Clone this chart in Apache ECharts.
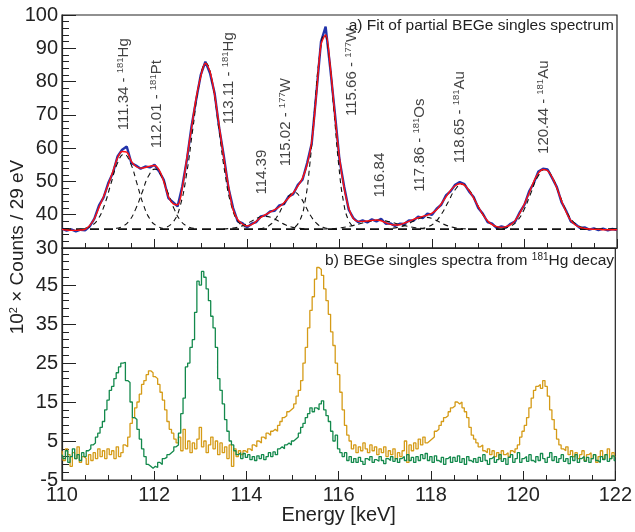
<!DOCTYPE html>
<html>
<head>
<meta charset="utf-8">
<script src="https://cdn.jsdelivr.net/npm/echarts@6/dist/echarts.min.js"></script>
<style>
  html, body { margin: 0; padding: 0; background: #fff; }
  #main { width: 635px; height: 532px; }
</style>
</head>
<body>
<div id="main"></div>
<script>
// panel a) - measured spectrum (0.1 keV steps from 110 keV) and the total fit
const measured = [
    35.8, 35.2, 35.6, 35.0, 35.5, 35.3, 36.5, 38.8, 42.8, 45.2,
    49.5, 52.5, 57.5, 59.5, 60.5, 55.5, 54.8, 53.8, 54.5, 54.2,
    55.0, 53.0, 50.5, 45.0, 43.8, 42.5, 48.5, 56.5, 66.5, 74.5,
    82.0, 86.0, 82.5, 76.5, 66.0, 57.5, 48.0, 42.0, 38.0, 37.5,
    36.2, 37.3, 37.8, 39.5, 39.8, 41.0, 41.2, 42.8, 43.2, 45.5,
    46.2, 49.0, 50.5, 55.5, 61.5, 76.5, 92.0, 96.5, 84.0, 70.5,
    56.5, 48.5, 41.5, 39.0, 37.8, 38.3, 37.7, 38.6, 38.0, 38.8,
    37.3, 37.4, 36.6, 37.3, 37.2, 38.3, 38.2, 39.4, 39.0, 40.3,
    40.0, 41.8, 43.0, 45.8, 47.0, 49.0, 49.8, 49.2, 47.0, 45.3,
    42.0, 40.3, 37.8, 37.3, 36.0, 36.5, 36.1, 37.3, 38.0, 40.8,
    43.0, 47.0, 49.5, 53.0, 53.8, 53.6, 51.0, 48.3, 43.8, 41.2,
    38.0, 37.2, 36.0, 36.2, 35.5, 35.9, 35.4, 35.8, 35.3, 35.7,
    35.4
];
const fitTotal = [
    35.6, 35.4, 35.3, 35.3, 35.4, 35.6, 36.8, 38.8, 42.2, 45.5,
    49.0, 53.0, 57.0, 59.0, 58.8, 56.0, 54.5, 54.0, 54.2, 54.6,
    54.8, 53.5, 50.0, 45.5, 43.3, 43.0, 48.0, 57.0, 66.0, 75.0,
    81.5, 85.5, 83.0, 76.0, 66.5, 57.0, 48.5, 41.5, 38.5, 37.2,
    36.6, 37.0, 38.0, 39.2, 40.0, 40.8, 41.5, 42.4, 43.6, 45.0,
    46.6, 48.6, 51.0, 55.0, 62.0, 76.0, 91.0, 94.0, 84.5, 70.0,
    57.0, 48.0, 42.0, 38.8, 38.0, 38.0, 38.1, 38.3, 38.4, 38.2,
    37.6, 37.1, 36.9, 37.0, 37.5, 38.0, 38.6, 39.1, 39.5, 39.9,
    40.5, 41.5, 43.3, 45.3, 47.3, 48.7, 49.3, 48.9, 47.3, 45.0,
    42.5, 40.0, 38.2, 37.0, 36.4, 36.2, 36.4, 37.0, 38.3, 40.5,
    43.3, 46.5, 50.0, 52.5, 53.6, 53.2, 51.2, 48.0, 44.2, 40.8,
    38.3, 36.9, 36.2, 35.9, 35.7, 35.6, 35.6, 35.5, 35.5, 35.5,
    35.5
];
const fitBackground = 35.7;

// single peak components of the fit, [energy, counts]
const fitPeaks = [
    [[110.50,35.9],[110.64,36.7],[110.78,38.7],[110.92,43.0],[111.06,49.4],[111.20,55.5],[111.34,58.2],[111.48,55.5],[111.62,49.4],[111.76,43.0],[111.90,38.7],[112.04,36.7],[112.18,35.9]],
    [[111.17,35.9],[111.31,36.5],[111.45,38.1],[111.59,41.6],[111.73,46.6],[111.87,51.6],[112.01,53.7],[112.15,51.6],[112.29,46.6],[112.43,41.6],[112.57,38.1],[112.71,36.5],[112.85,35.9]],
    [[112.27,36.3],[112.41,37.9],[112.55,42.4],[112.69,51.9],[112.83,65.9],[112.97,79.6],[113.11,85.5],[113.25,79.6],[113.39,65.9],[113.53,51.9],[113.67,42.4],[113.81,37.9],[113.95,36.3]],
    [[113.49,35.7],[113.64,35.9],[113.79,36.2],[113.94,36.9],[114.09,38.0],[114.24,39.1],[114.39,39.5],[114.54,39.1],[114.69,38.0],[114.84,36.9],[114.99,36.2],[115.14,35.9],[115.29,35.7]],
    [[114.27,35.8],[114.395,36.2],[114.52,37.2],[114.645,39.3],[114.77,42.4],[114.895,45.4],[115.02,46.7],[115.145,45.4],[115.27,42.4],[115.395,39.3],[115.52,37.2],[115.645,36.2],[115.77,35.8]],
    [[115.04,36.3],[115.145,38.3],[115.25,43.6],[115.355,54.7],[115.46,71.2],[115.565,87.3],[115.67,94.2],[115.775,87.3],[115.88,71.2],[115.985,54.7],[116.09,43.6],[116.195,38.3],[116.30,36.3]],
    [[115.64,35.7],[115.84,35.8],[116.04,36.1],[116.24,36.6],[116.44,37.3],[116.64,38.0],[116.84,38.3],[117.04,38.0],[117.24,37.3],[117.44,36.6],[117.64,36.1],[117.84,35.8],[118.04,35.7]],
    [[116.96,35.7],[117.11,35.9],[117.26,36.2],[117.41,36.8],[117.56,37.8],[117.71,38.8],[117.86,39.2],[118.01,38.8],[118.16,37.8],[118.31,36.8],[118.46,36.2],[118.61,35.9],[118.76,35.7]],
    [[117.75,35.9],[117.90,36.3],[118.05,37.5],[118.20,40.1],[118.35,43.8],[118.50,47.5],[118.65,49.1],[118.80,47.5],[118.95,43.8],[119.10,40.1],[119.25,37.5],[119.40,36.3],[119.55,35.9]],
    [[119.54,35.9],[119.69,36.5],[119.84,38.1],[119.99,41.5],[120.14,46.6],[120.29,51.5],[120.44,53.6],[120.59,51.5],[120.74,46.6],[120.89,41.5],[121.04,38.1],[121.19,36.5],[121.34,35.9]]
];

const peakLabels = [
    '111.34 - {s|181}Hg', '112.01 - {s|181}Pt', '113.11 - {s|181}Hg', '114.39',
    '115.02 - {s|177}W', '115.66 - {s|177}W', '116.84', '117.86 - {s|181}Os',
    '118.65 - {s|181}Au', '120.44 - {s|181}Au'
];
// where each rotated label is centred (energy, counts)
const peakLabelAt = [
    [111.34, 79.2], [112.05, 73.2], [113.61, 81.0], [114.32, 52.8], [114.84, 67.8],
    [116.27, 82.9], [116.88, 51.9], [117.74, 60.9], [118.60, 69.3], [120.42, 72.3]
];

// panel b) - two singles spectra (0.05 keV steps from 110 keV)
const spectrumGreen = [
    1.5, 0.5, 2.5, -0.5, 1.0, 3.0, 0.5, 1.5, 0.0, 2.0, 1.0, 2.5, 3.0, 4.0, 4.5, 6.0, 7.0, 8.5, 10.0, 13.0,
    15.5, 18.0, 19.0, 21.0, 22.5, 24.0, 25.0, 25.2, 20.5, 20.0, 15.0, 11.0, 10.5, 8.0, 5.5, 3.0, 1.0, -1.0, -1.5, -2.0,
    -1.5, -1.8, -0.5, -1.0, 0.5, 0.8, 1.5, 2.0, 2.5, 3.5, 4.0, 7.0, 12.0, 16.0, 24.0, 25.0, 29.0, 31.0, 38.0, 46.0,
    45.0, 48.5, 47.0, 44.0, 41.0, 37.0, 34.0, 29.0, 21.0, 18.0, 14.5, 10.5, 7.5, 5.0, 4.0, 2.5, 1.5, 2.0, 0.5, 1.8,
    0.8, 1.5, 0.2, 1.0, 0.0, 1.2, 0.5, 1.5, 0.2, 1.0, 2.0, 1.0, 2.2, 1.5, 3.0, 3.5, 3.0, 4.0, 4.5, 4.0,
    5.0, 5.5, 6.0, 7.0, 8.5, 9.5, 11.0, 12.0, 13.5, 12.5, 13.5, 13.0, 14.5, 15.3, 13.0, 11.5, 10.0, 7.5, 5.0, 6.5,
    3.0, 2.0, 1.0, 2.0, 0.0, 1.0, -0.5, 0.5, -0.5, 0.8, -0.2, -1.0, 0.5, 0.0, 1.0, -0.5, 0.2, -0.2, 1.0, 0.0,
    -0.8, 0.5, 0.0, 1.0, -0.2, 0.5, -0.5, 0.5, 1.0, 0.0, 1.5, 0.0, 0.8, -0.5, 1.0, 0.0, 1.5, 0.5, 1.8, 0.0,
    1.0, -0.5, 1.2, 0.0, -0.5, 0.8, -1.0, 0.5, 1.0, -0.5, 0.8, -0.2, 1.2, -0.5, 0.5, -1.0, 1.0, 0.0, -0.5, 0.5,
    -0.5, 0.8, -0.2, 1.5, 0.0, -1.0, 0.5, 1.0, -0.5, 0.2, 1.5, -0.2, 0.5, -1.0, 0.8, 1.5, -0.5, 0.5, 2.0, -0.5,
    0.5, 1.0, -0.2, 1.5, 0.0, -0.5, 1.0, 0.0, 1.8, 0.5, -0.5, 0.8, 2.0, 0.0, 1.0, -0.5, 0.5, 1.5, -0.2, 0.5,
    -0.8, 1.0, 0.0, 1.5, -0.5, 0.5, 1.0, -0.2, 0.8, -0.5, 0.5, 1.5, 0.0, -0.5, 1.0, 0.2, 1.5, -0.2, 0.5, 1.2,
    0.0
];
const spectrumGold = [
    2.5, 0.0, 3.0, 1.5, -1.5, 2.0, 0.5, 3.5, -0.5, 1.0, 0.5, -1.0, 1.5, 0.0, 2.0, 0.5, 3.0, 1.0, 2.5, 0.5,
    3.0, 1.5, 2.5, 0.5, 3.5, 1.0, 2.0, 4.0, 3.5, 6.0, 9.5, 11.0, 13.5, 15.0, 17.0, 19.5, 20.5, 22.0, 23.0, 22.5,
    21.5, 21.0, 19.5, 17.5, 15.5, 13.0, 10.0, 8.0, 7.0, 5.5, 4.5, 6.0, 2.5, 8.0, 3.0, 5.0, 2.0, 4.5, 3.0, 5.5,
    8.5, 3.5, 5.0, 2.0, 4.0, 6.0, 3.0, 5.0, 1.5, 4.5, 2.0, 3.5, 0.5, 4.0, -1.5, 3.0, 1.0, 2.5, 1.5, 2.5,
    2.0, 3.0, 2.5, 4.0, 3.5, 5.0, 4.5, 6.0, 5.5, 7.0, 6.5, 7.5, 8.0, 7.5, 9.0, 10.0, 11.0, 11.5, 12.5, 13.0,
    13.5, 14.5, 16.5, 18.0, 20.5, 25.0, 29.0, 34.0, 38.5, 42.0, 46.5, 49.5, 49.0, 47.5, 44.0, 41.0, 37.5, 33.0, 29.5, 25.0,
    22.0, 17.5, 13.0, 9.0, 6.5, 5.0, 3.0, 4.0, 2.0, 3.5, 2.5, 4.5, 3.0, 2.0, 4.0, 2.5, 3.5, 1.5, 3.0, 2.0,
    3.5, 1.0, 2.5, 1.5, 3.0, 0.5, 2.0, 1.0, 2.5, 5.0, -0.5, 4.0, 2.5, 4.5, 3.0, 5.5, 4.0, 6.0, 4.5, 5.0,
    5.5, 6.0, 7.5, 8.0, 9.0, 10.0, 11.0, 11.5, 12.5, 13.5, 14.0, 15.0, 14.5, 15.0, 13.5, 12.5, 11.0, 8.5, 6.5, 5.5,
    4.5, 3.5, 4.0, 2.5, 2.0, 3.0, 1.5, 2.5, 1.0, 2.0, 0.5, 2.5, 1.5, 2.0, 1.0, 2.5, 2.0, 3.0, 4.0, 6.0,
    7.5, 9.0, 11.0, 13.5, 16.0, 18.0, 19.0, 19.5, 18.5, 20.5, 19.0, 16.5, 13.0, 10.5, 8.0, 5.5, 4.0, 3.0, 2.5, 3.5,
    1.5, 2.5, 1.0, 2.0, 0.5, 1.5, 2.5, 0.0, 1.5, 2.0, 0.5, 1.5, -0.5, 1.0, 2.5, 0.5, 1.5, 3.0, 0.5, 2.0,
    1.0
];

const E0 = 110;
const withEnergy = (vals, step) => vals.map((v, i) => [+(E0 + i * step).toFixed(3), v]);

const FONT = '"Liberation Sans", Arial, sans-serif';
const INK = '#222';

function xAxisFor(gridIndex, withLabels) {
    return {
        type: 'value', gridIndex, min: 110, max: 122, interval: 2,
        axisLine: { onZero: false, lineStyle: { color: INK, width: 1.2 } },
        axisTick: { inside: true, length: 9, lineStyle: { color: INK } },
        minorTick: { show: true, splitNumber: 4, length: 5, lineStyle: { color: INK } },
        splitLine: { show: false },
        axisLabel: { show: withLabels, fontSize: 20, fontFamily: FONT, color: INK, margin: 5 },
        name: withLabels ? 'Energy [keV]' : '',
        nameLocation: 'middle', nameGap: 21,
        nameTextStyle: { fontSize: 20, fontFamily: FONT, color: INK }
    };
}

function yAxisFor(gridIndex, min, max, showMax) {
    return {
        type: 'value', gridIndex, min, max, interval: 10,
        axisLine: { show: true, onZero: false, lineStyle: { color: INK, width: 1.2 } },
        axisTick: { inside: true, length: 14, lineStyle: { color: INK } },
        minorTick: { show: true, splitNumber: 5, length: 7, lineStyle: { color: INK } },
        splitLine: { show: false },
        axisLabel: { fontSize: 20, fontFamily: FONT, color: INK, margin: 4, showMaxLabel: showMax }
    };
}

const dashed = { color: '#111', width: 1.1, type: [5, 4] };

const series = [
    {
        type: 'line', xAxisIndex: 0, yAxisIndex: 0, showSymbol: false,
        data: withEnergy(measured, 0.1),
        lineStyle: { color: '#2233aa', width: 2.4 }, z: 2
    },
    {
        type: 'line', xAxisIndex: 0, yAxisIndex: 0, showSymbol: false,
        data: [[110, fitBackground], [122, fitBackground]],
        lineStyle: { color: '#111', width: 1.8, type: [9, 5] }, z: 3
    }
];
fitPeaks.forEach(pk => {
    series.push({
        type: 'line', xAxisIndex: 0, yAxisIndex: 0, showSymbol: false, smooth: true,
        data: pk, lineStyle: dashed, z: 3
    });
});
series.push({
    type: 'line', xAxisIndex: 0, yAxisIndex: 0, showSymbol: false, smooth: 0.35,
    data: withEnergy(fitTotal, 0.1),
    lineStyle: { color: '#ff1010', width: 1.4 }, z: 4
});
series.push({
    type: 'scatter', xAxisIndex: 0, yAxisIndex: 0, symbolSize: 1, silent: true,
    itemStyle: { color: 'transparent' },
    data: peakLabelAt.map((p, i) => ({ value: p, label: { formatter: peakLabels[i] } })),
    label: {
        show: true, position: 'inside', rotate: 90,
        fontSize: 15, lineHeight: 17, fontFamily: FONT, color: '#111',
        rich: { s: { fontSize: 9.5, lineHeight: 10, verticalAlign: 'top', fontFamily: FONT, color: '#111' } }
    },
    z: 5
});
series.push({
    type: 'line', xAxisIndex: 1, yAxisIndex: 1, step: 'middle', showSymbol: false,
    data: withEnergy(spectrumGold, 0.05),
    lineStyle: { color: '#d59b17', width: 1.3 }
});
series.push({
    type: 'line', xAxisIndex: 1, yAxisIndex: 1, step: 'middle', showSymbol: false,
    data: withEnergy(spectrumGreen, 0.05),
    lineStyle: { color: '#13894c', width: 1.3 }
});

const chart = echarts.init(document.getElementById('main'), null, { renderer: 'canvas' });
chart.setOption({
    animation: false,
    backgroundColor: '#fff',
    grid: [
        { left: 62, top: 15, right: 18, height: 233, show: true, borderColor: INK, borderWidth: 1.2 },
        { left: 62, top: 248, right: 18, height: 232, show: true, borderColor: INK, borderWidth: 1.2 }
    ],
    xAxis: [xAxisFor(0, false), xAxisFor(1, true)],
    yAxis: [yAxisFor(0, 30, 100, true), yAxisFor(1, -5, 54.5, false)],
    series,
    graphic: [
        {
            type: 'text', x: 614, y: 26,
            style: { text: 'a) Fit of partial BEGe singles spectrum', fontSize: 15.5, fontFamily: FONT,
                     fill: INK, align: 'right', verticalAlign: 'middle' }
        },
        {
            type: 'text', x: 614, y: 261,
            style: { text: 'b) BEGe singles spectra from {s|181}Hg decay', fontSize: 15.5, lineHeight: 17,
                     fontFamily: FONT, fill: INK, align: 'right', verticalAlign: 'middle',
                     rich: { s: { fontSize: 10, lineHeight: 10, verticalAlign: 'top', fontFamily: FONT, fill: INK } } }
        },
        {
            type: 'text', x: 18, y: 247, rotation: Math.PI / 2,
            style: { text: '10{s|2} × Counts / 29 eV', fontSize: 19, lineHeight: 20, fontFamily: FONT,
                     fill: INK, align: 'center', verticalAlign: 'middle',
                     rich: { s: { fontSize: 11, lineHeight: 11, verticalAlign: 'top', fontFamily: FONT, fill: INK } } }
        }
    ]
});
</script>
</body>
</html>
